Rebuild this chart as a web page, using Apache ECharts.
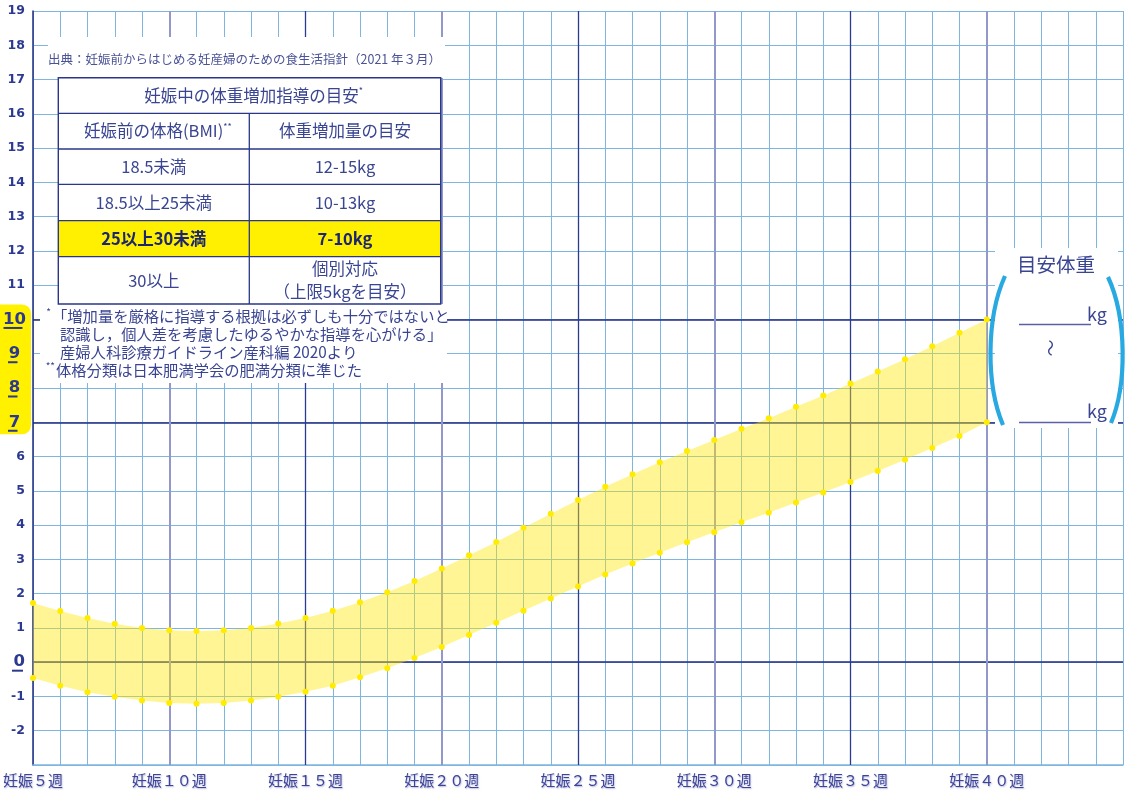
<!DOCTYPE html>
<html><head><meta charset="utf-8">
<script src="https://cdn.jsdelivr.net/npm/echarts@6/dist/echarts.min.js"></script>
<style>html,body{margin:0;padding:0;background:#fff}#c{width:1129px;height:794px}</style>
</head><body><div id="c"></div>
<script>
// ---- data ----
const weeks = [5,6,7,8,9,10,11,12,13,14,15,16,17,18,19,20,21,22,23,24,25,26,27,28,29,30,31,32,33,34,35,36,37,38,39,40];
const upperGain = [1.73,1.49,1.29,1.12,1.00,0.93,0.91,0.93,1.00,1.13,1.29,1.50,1.75,2.04,2.37,2.73,3.12,3.51,3.92,4.33,4.73,5.12,5.48,5.83,6.16,6.48,6.81,7.12,7.45,7.78,8.13,8.48,8.84,9.22,9.61,10.0];
const lowerGain = [-0.46,-0.69,-0.88,-1.01,-1.12,-1.19,-1.21,-1.19,-1.12,-1.01,-0.86,-0.69,-0.44,-0.18,0.12,0.44,0.79,1.15,1.50,1.86,2.21,2.56,2.88,3.19,3.50,3.79,4.08,4.36,4.66,4.95,5.26,5.58,5.91,6.25,6.60,7.0];
const xTickWeeks = [5,10,15,20,25,30,35,40];
const xTickLabels = ['妊娠５週','妊娠１０週','妊娠１５週','妊娠２０週','妊娠２５週','妊娠３０週','妊娠３５週','妊娠４０週'];
const yHighlightTicks = [7,8,9,10];
const yZeroTick = 0;
const navyLinesY = [0,7,10];
const navyLinesX = [15,25,35];
const purpleLinesX = [10,20,30,40];
const sourceText = '出典：妊娠前からはじめる妊産婦のための食生活指針（2021 年３月）';
const tableTitle = '妊娠中の体重増加指導の目安';
const tableHeader = ['妊娠前の体格(BMI)', '体重増加量の目安'];
const tableBmi = ['18.5未満','18.5以上25未満','25以上30未満','30以上'];
const tableGain = ['12-15kg','10-13kg','7-10kg','個別対応\n（上限5kgを目安）'];
const noteMarks = ['*','','','**'];
const noteLines = ['「増加量を厳格に指導する根拠は必ずしも十分ではないと','認識し，個人差を考慮したゆるやかな指導を心がける」','産婦人科診療ガイドライン産科編 2020より','体格分類は日本肥満学会の肥満分類に準じた'];
const targetTitle = '目安体重';
const unitText = 'kg';

// ---- styles ----
const NAVY = '#1f2b85', PURPLE = '#9298c9', LIGHT = '#7fb6df', TXT = '#3a4592';
const JP = '"Noto Sans CJK JP"';

const chart = echarts.init(document.getElementById('c'), null, {renderer: 'canvas'});
const pts = arr => weeks.map((w, i) => [w, arr[i]]);

// table geometry
const TX0 = 58.3, TX1 = 440.7, TXM = 249.3;
const rowY = [77.7, 113.3, 149, 184.3, 220.7, 256.7, 304];

const els = [];
els.push({type:'rect', id:'srcBg', z:50, shape:{x:48,y:37,width:397,height:41}, style:{fill:'#fff'}});
els.push({type:'rect', id:'noteBg', z:50, shape:{x:40,y:304,width:407,height:79}, style:{fill:'#fff'}});
els.push({type:'text', id:'src', z:53, x:48, y:59, style:{text:sourceText, fill:'#4b5396', font:'12.5px '+JP, align:'left', verticalAlign:'middle'}});
els.push({type:'rect', id:'tblBg', z:50, shape:{x:TX0,y:rowY[0],width:TX1-TX0,height:rowY[6]-rowY[0]}, style:{fill:'#fff'}});
els.push({type:'rect', id:'tblHi', z:51, shape:{x:TX0,y:rowY[4],width:TX1-TX0,height:rowY[5]-rowY[4]}, style:{fill:'#ffef00'}});
els.push({type:'rect', id:'tblBorder', z:52, shape:{x:TX0,y:rowY[0],width:TX1-TX0,height:rowY[6]-rowY[0]}, style:{fill:'none', stroke:'#2a3788', lineWidth:1.4}});
for (let r = 1; r <= 5; r++) {
  els.push({type:'line', id:'tblH'+r, z:52, shape:{x1:TX0,y1:rowY[r],x2:TX1,y2:rowY[r]}, style:{stroke:'#2a3788', lineWidth:1.3}});
}
els.push({type:'line', id:'tblV', z:52, shape:{x1:TXM,y1:rowY[1],x2:TXM,y2:rowY[6]}, style:{stroke:'#2a3788', lineWidth:1.3}});
const richT = {m:{fontSize:16.5, fontFamily:JP, fill:TXT, color:TXT}, s:{fontSize:9, fontFamily:JP, color:TXT, fill:TXT, padding:[0,0,9,0]}};
els.push({type:'text', id:'tTitle', z:53, x:(TX0+TX1)/2+4, y:(rowY[0]+rowY[1])/2, style:{text:'{m|'+tableTitle+'}{s|*}', rich:richT, align:'center', verticalAlign:'middle'}});
els.push({type:'text', id:'tH0', z:53, x:(TX0+TXM)/2+4, y:(rowY[1]+rowY[2])/2, style:{text:'{m|'+tableHeader[0]+'}{s|**}', rich:richT, align:'center', verticalAlign:'middle'}});
els.push({type:'text', id:'tH1', z:53, x:(TXM+TX1)/2, y:(rowY[1]+rowY[2])/2, style:{text:tableHeader[1], fill:TXT, font:'16.5px '+JP, align:'center', verticalAlign:'middle'}});
for (let i = 0; i < 4; i++) {
  const yc = (rowY[2+i] + rowY[3+i]) / 2;
  const bold = i === 2;
  const font = (bold ? 'bold ' : '') + '16.5px ' + JP;
  const col = bold ? '#1c266e' : TXT;
  els.push({type:'text', id:'tB'+i, z:53, x:(TX0+TXM)/2, y:yc, style:{text:tableBmi[i], fill:col, font:font, align:'center', verticalAlign:'middle'}});
  els.push({type:'text', id:'tG'+i, z:53, x:(TXM+TX1)/2, y:yc, style:{text:tableGain[i], fill:col, font:font, align:'center', verticalAlign:'middle', lineHeight:23}});
}
const noteX = [52, 60, 60, 56];
const noteY = [316, 334, 352, 370];
for (let i = 0; i < 4; i++) {
  els.push({type:'text', id:'nt'+i, z:53, x:noteX[i], y:noteY[i], style:{text:noteLines[i], fill:TXT, font:'15.3px '+JP, align:'left', verticalAlign:'middle'}});
  if (noteMarks[i]) {
    els.push({type:'text', id:'nm'+i, z:53, x:noteX[i]-1, y:noteY[i]-4, style:{text:noteMarks[i], fill:TXT, font:'10px '+JP, align:'right', verticalAlign:'middle'}});
  }
}
// right-side target weight box
els.push({type:'rect', id:'tgBg', z:50, shape:{x:995,y:248,width:123,height:180}, style:{fill:'#fff'}});
els.push({type:'text', id:'tgTitle', z:53, x:1056, y:265, style:{text:targetTitle, fill:TXT, font:'19.5px '+JP, align:'center', verticalAlign:'middle'}});
els.push({type:'bezierCurve', id:'parL', z:52, shape:{x1:1005,y1:276,cpx1:986,cpy1:318,cpx2:986,cpy2:385,x2:1003,y2:425}, style:{stroke:'#29a9e1', lineWidth:4.2, fill:'none'}});
els.push({type:'bezierCurve', id:'parR', z:52, shape:{x1:1108,y1:277,cpx1:1127,cpy1:318,cpx2:1127,cpy2:385,x2:1111,y2:423}, style:{stroke:'#29a9e1', lineWidth:4.2, fill:'none'}});
els.push({type:'line', id:'ul1', z:52, shape:{x1:1019,y1:324.5,x2:1091,y2:324.5}, style:{stroke:'#5b60a6', lineWidth:1.5}});
els.push({type:'line', id:'ul2', z:52, shape:{x1:1019,y1:422.5,x2:1091,y2:422.5}, style:{stroke:'#5b60a6', lineWidth:1.5}});
els.push({type:'text', id:'kg1', z:53, x:1087, y:314, style:{text:unitText, fill:TXT, font:'18px '+JP, align:'left', verticalAlign:'middle'}});
els.push({type:'text', id:'kg2', z:53, x:1087, y:411, style:{text:unitText, fill:TXT, font:'18px '+JP, align:'left', verticalAlign:'middle'}});
els.push({type:'text', id:'tilde', z:53, x:1051, y:348, rotation:Math.PI/2, style:{text:'〜', fill:TXT, font:'17px '+JP, align:'center', verticalAlign:'middle'}});

const markData = [];
navyLinesY.forEach(v => markData.push({yAxis:v, lineStyle:{color:NAVY, width:1.5, type:'solid'}}));
navyLinesX.forEach(v => markData.push({xAxis:v, lineStyle:{color:'#2b3a92', width:1.3, type:'solid'}}));
purpleLinesX.forEach(v => markData.push({xAxis:v, lineStyle:{color:PURPLE, width:2, type:'solid'}}));

const option = {
  animation: false,
  backgroundColor: '#fff',
  grid: {left:31, right:6, top:11, bottom:29, containLabel:false},
  xAxis: {
    type:'value', min:5, max:45, interval:1,
    axisLine:{show:true, onZero:false, lineStyle:{color:LIGHT, width:1.5}},
    axisTick:{show:false},
    splitLine:{show:true, lineStyle:{color:LIGHT, width:1}},
    axisLabel:{
      interval:0, margin:8, color:'#3d4498', fontSize:15, fontFamily:JP,
      textShadowColor:'rgba(90,95,170,0.45)', textShadowBlur:1.5, textShadowOffsetX:0.8, textShadowOffsetY:0.8,
      formatter: v => { const k = xTickWeeks.indexOf(v); return k >= 0 ? xTickLabels[k] : ''; }
    }
  },
  yAxis: {
    type:'value', min:-3, max:19, interval:1,
    axisLine:{show:true, onZero:false, lineStyle:{color:NAVY, width:1.5}},
    axisTick:{show:false},
    splitLine:{show:true, lineStyle:{color:LIGHT, width:1}},
    axisLabel:{
      align:'right', margin:8,
      formatter: v => {
        if (v === -3) return '';
        if (yHighlightTicks.includes(v)) return '{hy|' + v + '}';
        if (v === yZeroTick) return '{h0|' + v + '}';
        return '{n|' + v + '}';
      },
      rich:{
        n:{fontSize:12.5, fontWeight:'bold', color:'#2b3990', fontFamily:'"DejaVu Sans"'},
        hy:{fontSize:16.5, fontWeight:'bold', color:'#2b3990', fontFamily:'"DejaVu Sans"', width:21, align:'center'},
        h0:{fontSize:16.5, fontWeight:'bold', color:'#2b3990', fontFamily:'"DejaVu Sans"'}
      }
    }
  },
  graphic: {elements: els},
  series: [
    {name:'band', type:'custom', data:pts(upperGain), silent:true, z:3, clip:true,
     renderItem: (params, api) => {
       if (params.dataIndex !== 0) return null;
       const up = weeks.map((w, i) => api.coord([w, upperGain[i]]));
       const lo = weeks.map((w, i) => api.coord([w, lowerGain[i]])).reverse();
       return {type:'polygon', shape:{points: up.concat(lo)}, style:{fill:'rgba(255,232,0,0.42)'}};
     }},
    {name:'upper', type:'line', data:pts(upperGain), symbol:'circle', symbolSize:6, showSymbol:true,
     itemStyle:{color:'#ffec00'}, lineStyle:{width:0, opacity:0}, silent:true, z:4},
    {name:'lower', type:'line', data:pts(lowerGain), symbol:'circle', symbolSize:6, showSymbol:true,
     itemStyle:{color:'#ffec00'}, lineStyle:{width:0, opacity:0}, silent:true, z:4,
     markLine:{silent:true, symbol:['none','none'], label:{show:false}, z:1, animation:false, data:markData}}
  ]
};
chart.setOption(option);

// y-label decorations derived from the axis scale
const py = v => chart.convertToPixel({yAxisIndex:0}, v);
const deco = [];
deco.push({type:'rect', id:'yHiBg', z:-1, shape:{x:-10, y:py(10)-15, width:41, height:(py(7)+12)-(py(10)-15), r:9}, style:{fill:'#fff100'}});
yHighlightTicks.concat([yZeroTick]).forEach(v => {
  let x1, x2;
  if (v === 10) { x1 = 3.5; x2 = 22.5; }
  else if (v === yZeroTick) { x1 = 12; x2 = 23; }
  else { x1 = 8; x2 = 17.5; }
  const y = py(v) + 8.5;
  deco.push({type:'line', id:'yul'+v, z:5, shape:{x1:x1, y1:y, x2:x2, y2:y}, style:{stroke:'#2b3990', lineWidth:2}});
});
chart.setOption({graphic:{elements:deco}});
</script></body></html>
